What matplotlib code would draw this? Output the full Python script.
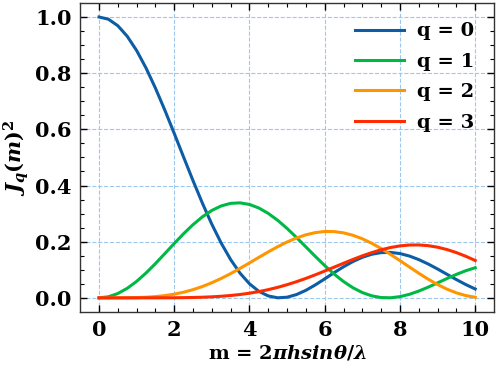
import numpy as np
import matplotlib
matplotlib.use("Agg")
import matplotlib.pyplot as plt

# m values (x axis), step 0.25 from 0 to 10
m = [i * 0.25 for i in range(41)]

# Amplitudes read for each curve (the plotted value is amplitude squared)
amp_q0 = [1.0, 0.99610, 0.98438, 0.96512, 0.93847, 0.90468, 0.86420, 0.81754,
          0.76520, 0.70774, 0.64588, 0.58034, 0.51183, 0.44112, 0.36903, 0.29635,
          0.22389, 0.15245, 0.08278, 0.01560, -0.04838, -0.10846, -0.16409,
          -0.21479, -0.26005, -0.29944, -0.33270, -0.35966, -0.38013, -0.39399,
          -0.40135, -0.40235, -0.39715, -0.38595, -0.36916, -0.34721, -0.32054,
          -0.28964, -0.25510, -0.21755, -0.17760]
amp_q1 = [0.0, 0.06237, 0.12401, 0.18422, 0.24227, 0.29747, 0.34921, 0.39693,
          0.44005, 0.47806, 0.51058, 0.53731, 0.55794, 0.57222, 0.58010, 0.58160,
          0.57672, 0.56554, 0.54833, 0.52541, 0.49709, 0.46376, 0.42594, 0.38419,
          0.33906, 0.29114, 0.24111, 0.18964, 0.13738, 0.08503, 0.03325,
          -0.01732, -0.06604, -0.11228, -0.15552, -0.19527, -0.23106, -0.26244,
          -0.28914, -0.31093, -0.32758]
amp_q2 = [0.0, 0.00196, 0.00778, 0.01737, 0.03060, 0.04723, 0.06703, 0.08972,
          0.11490, 0.14214, 0.17105, 0.20121, 0.23209, 0.26315, 0.29394, 0.32402,
          0.35283, 0.37983, 0.40462, 0.42685, 0.44605, 0.46180, 0.47386, 0.48205,
          0.48609, 0.48577, 0.48108, 0.47204, 0.45863, 0.44090, 0.41908, 0.39341,
          0.36413, 0.33151, 0.29597, 0.25794, 0.21785, 0.17615, 0.13336, 0.08999,
          0.04657]
amp_q3 = [0.0, 0.00004, 0.00033, 0.00109, 0.00256, 0.00496, 0.00848, 0.01330,
          0.01956, 0.02739, 0.03687, 0.04805, 0.06096, 0.07558, 0.09185, 0.10968,
          0.12894, 0.14948, 0.17108, 0.19353, 0.21659, 0.23994, 0.26331, 0.28648,
          0.30906, 0.33065, 0.35099, 0.36982, 0.38677, 0.40149, 0.41377, 0.42343,
          0.43017, 0.43375, 0.43408, 0.43110, 0.42470, 0.41479, 0.40144, 0.38477,
          0.36483]

labels = ["q = 0", "q = 1", "q = 2", "q = 3"]
colors = ["#0C5DA5", "#00B945", "#FF9500", "#FF2C00"]

plt.rcParams["font.family"] = ["DejaVu Serif"]
plt.rcParams["font.weight"] = "bold"
plt.rcParams["mathtext.fontset"] = "dejavuserif"

fig = plt.figure(figsize=(4.98, 3.70), dpi=100)
ax = fig.add_axes([0.161, 0.157, 0.831, 0.835])

x = np.array(m)
for amp, lab, c in zip([amp_q0, amp_q1, amp_q2, amp_q3], labels, colors):
    ax.plot(x, np.square(amp), color=c, lw=2.2, label=lab,
            solid_joinstyle="round")

ax.set_xticks([0, 2, 4, 6, 8, 10])
ax.set_yticks([0.0, 0.2, 0.4, 0.6, 0.8, 1.0])
ax.set_xticks(np.arange(0, 10.01, 0.5), minor=True)
ax.set_yticks(np.arange(0, 1.01, 0.05), minor=True)
ax.set_xlim(-0.5, 10.5)
ax.set_ylim(-0.05, 1.05)

ax.tick_params(which="both", direction="in", top=True, right=True, labelsize=15)
ax.tick_params(which="major", length=5, width=1, pad=6)
ax.tick_params(which="minor", length=3, width=0.8)
for lab in ax.get_xticklabels() + ax.get_yticklabels():
    lab.set_fontweight("bold")

ax.grid(True, which="major", color="#9cc8ee", linestyle="--", linewidth=0.8)
for s in ax.spines.values():
    s.set_linewidth(1.0)
    s.set_color("#333333")

ax.set_xlabel(r"m = $2\pi hsin\theta/\lambda$", fontsize=14, fontweight="bold",
              labelpad=2)
ax.set_ylabel(r"$J_q(m)^2$", fontsize=15, labelpad=3)

ax.legend(loc="upper right", frameon=False, fontsize=14, handlelength=2.5,
          handletextpad=0.7, labelspacing=0.64, borderaxespad=0.6)

fig.savefig("out.png", dpi=100)
